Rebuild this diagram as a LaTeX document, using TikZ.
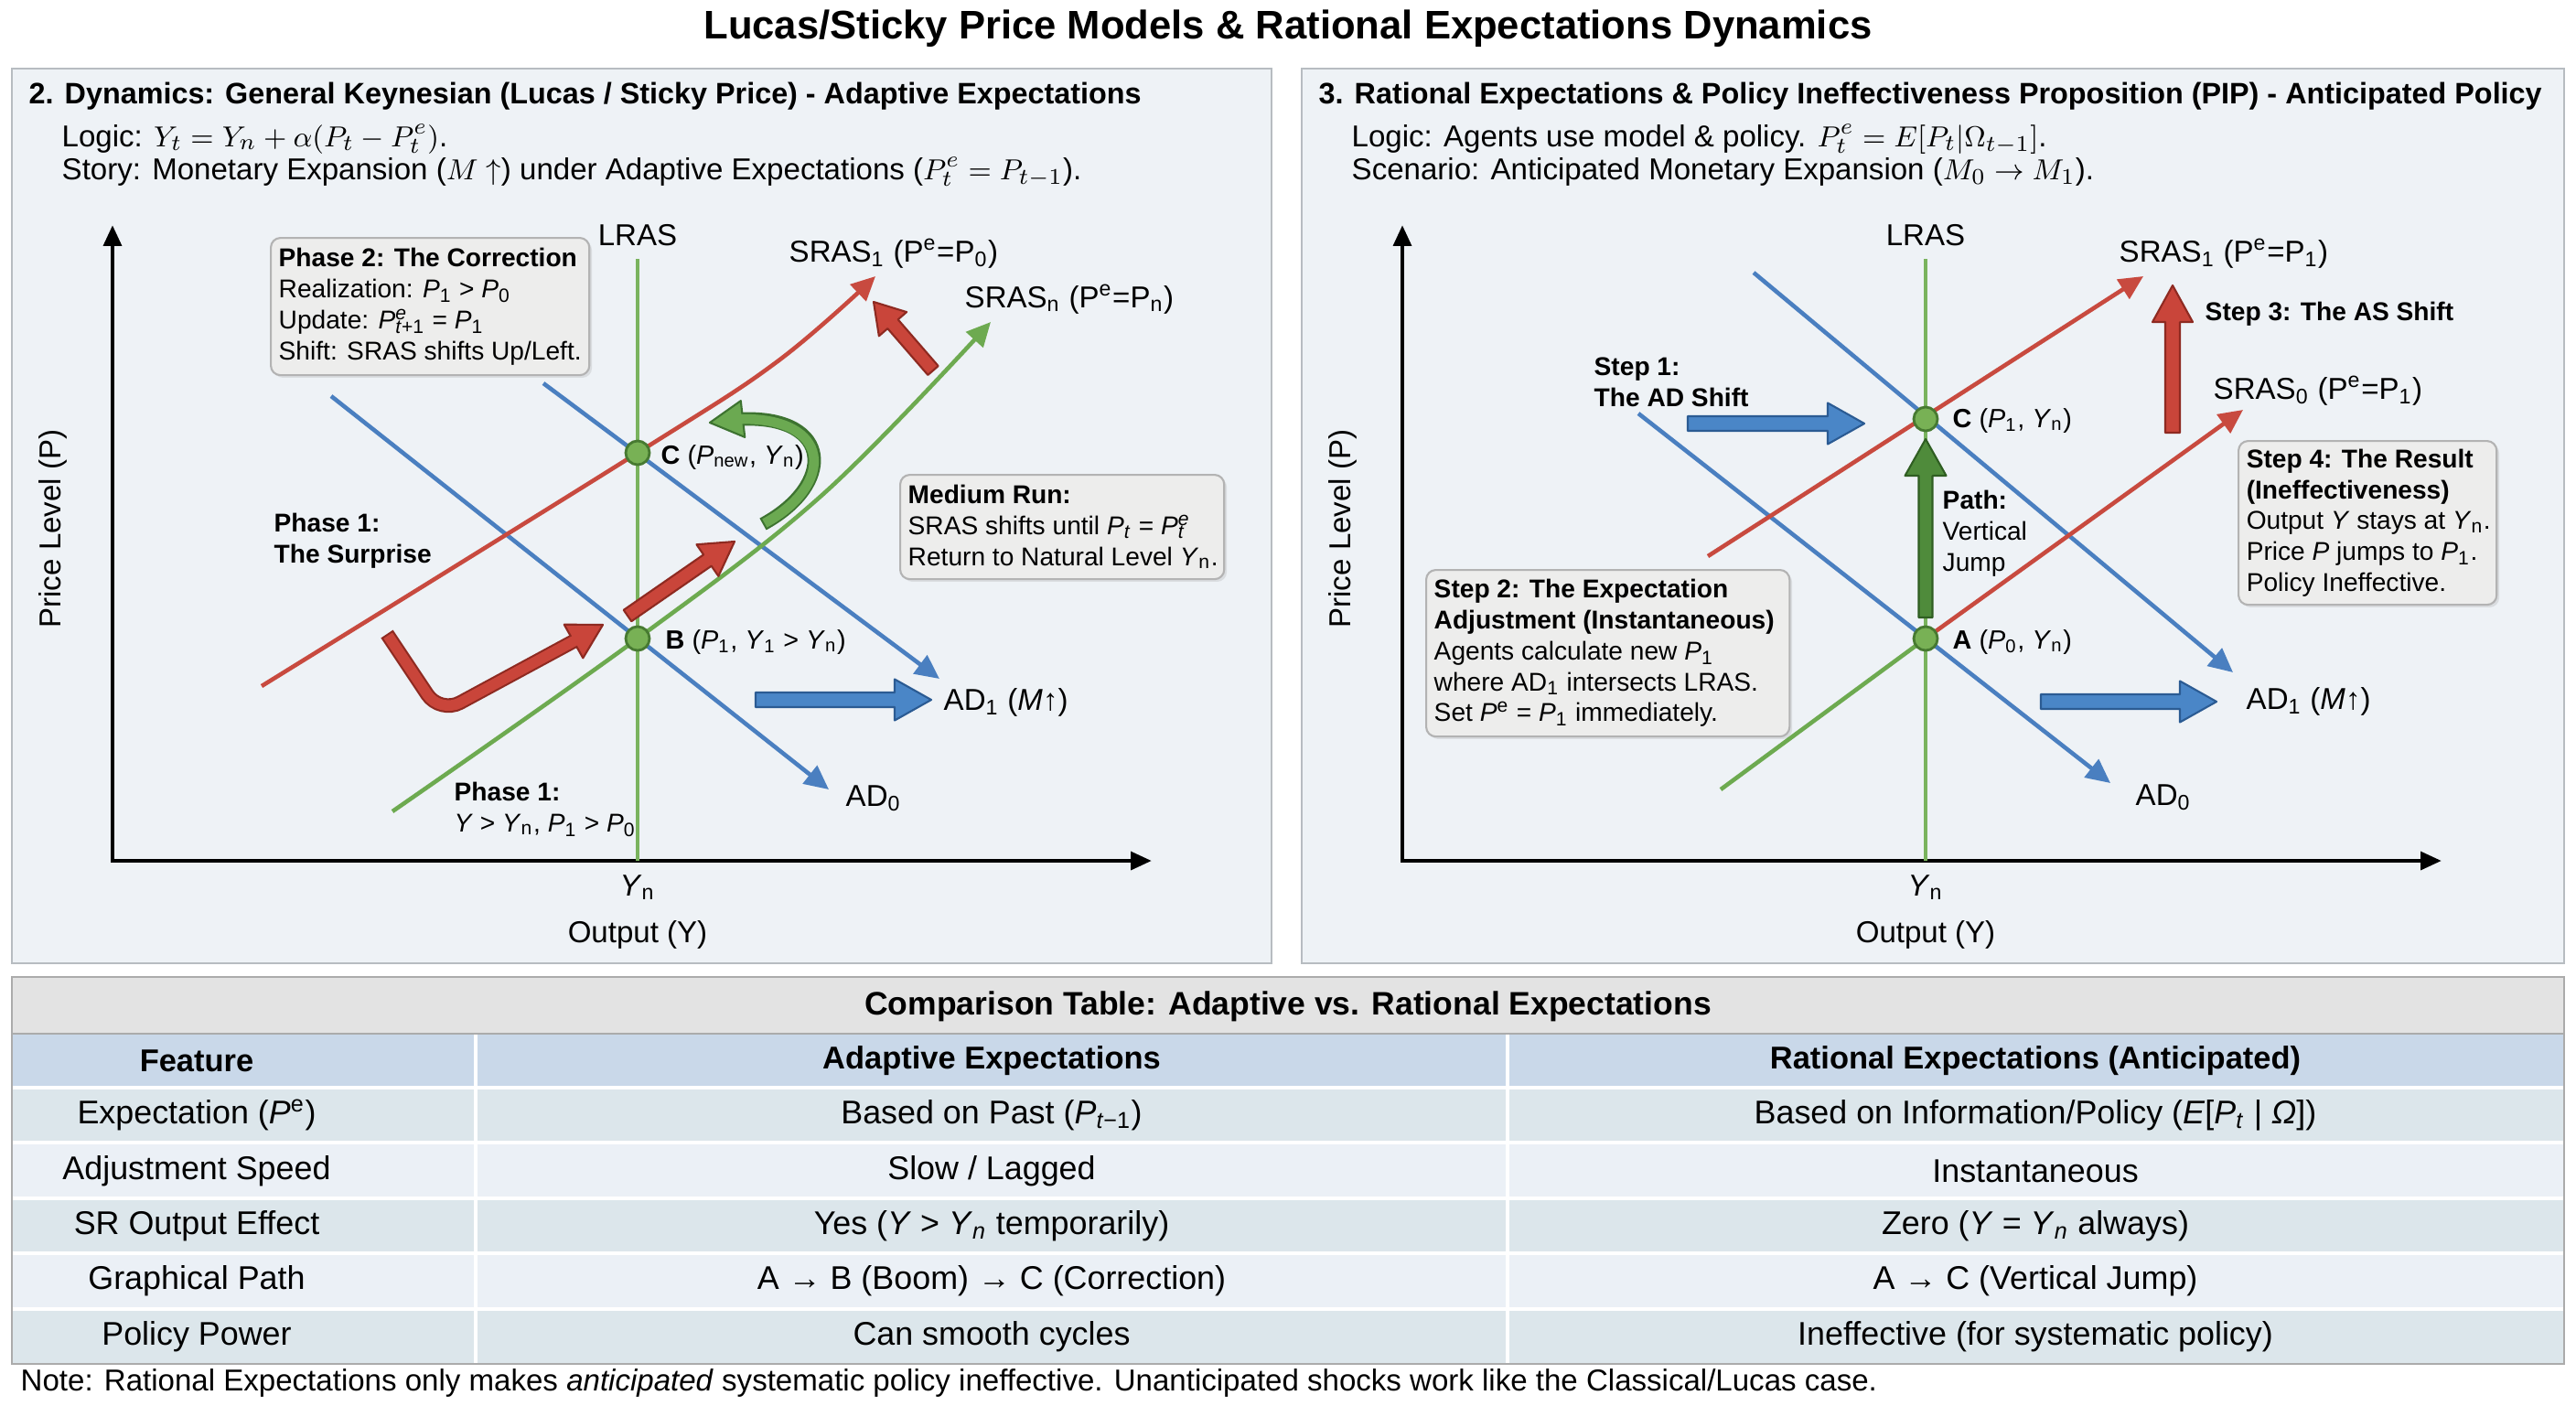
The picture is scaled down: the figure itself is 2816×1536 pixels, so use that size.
\documentclass[tikz,border=0pt]{standalone}
\usepackage{fontspec}
\setmainfont{Liberation Sans}
\usepackage{tikz}
\usetikzlibrary{arrows.meta,calc,shadows}
\pgfdeclarelayer{bglayer}
\pgfdeclarelayer{edgelayer}
\pgfdeclarelayer{nodelayer}
\pgfsetlayers{bglayer,edgelayer,nodelayer,main}
\definecolor{panelbg}{HTML}{EEF2F6}
\definecolor{panelline}{HTML}{B7BCC1}
\definecolor{curvered}{HTML}{C84A3F}
\definecolor{curveblue}{HTML}{4A7FC0}
\definecolor{curvegreen}{HTML}{6DAA50}
\definecolor{lrasgreen}{HTML}{7AB35E}
\definecolor{arrowred}{HTML}{C9453A}
\definecolor{arrowredline}{HTML}{8E2A21}
\definecolor{arrowblue}{HTML}{4A86C7}
\definecolor{arrowblueline}{HTML}{2B5B93}
\definecolor{pathgreen}{HTML}{4F8B3B}
\definecolor{pathgreenline}{HTML}{2F5E22}
\definecolor{turngreen}{HTML}{6BA951}
\definecolor{turngreenline}{HTML}{3D7330}
\definecolor{pointgreen}{HTML}{78B155}
\definecolor{pointline}{HTML}{477A31}
\definecolor{boxfill}{HTML}{EDEDEC}
\definecolor{boxline}{HTML}{B3B3B3}
\definecolor{tabletitle}{HTML}{E3E3E3}
\definecolor{tablehead}{HTML}{C9D8E9}
\definecolor{rowdark}{HTML}{DCE6EB}
\definecolor{rowlight}{HTML}{EBF0F6}
\definecolor{tableline}{HTML}{ABABAB}
\newcommand{\titlesize}{\fontsize{12.4}{15}\selectfont}
\newcommand{\headsize}{\fontsize{9.2}{11}\selectfont}
\newcommand{\bodysize}{\fontsize{9.4}{11}\selectfont}
\newcommand{\pointsize}{\fontsize{8.2}{10}\selectfont}
\newcommand{\boxsize}{\fontsize{8}{9.6}\selectfont}
\newcommand{\tablesize}{\fontsize{10.2}{12}\selectfont}
\newcommand{\isub}[2]{\textit{#1}\textsubscript{#2}}
\newcommand{\isubsup}[3]{\textit{#1}\rlap{\textsuperscript{#2}}\textsubscript{#3}}
\newcommand{\fatarrow}[6]{%
  \coordinate (fh) at ($(#3)!#6!(#2)$);
  \filldraw [style=#1] ($(#2)!#4!90:(#3)$) -- ($(fh)!#4!-90:(#2)$) -- ($(fh)!#5!-90:(#2)$) -- (#3)
    -- ($(fh)!#5!90:(#2)$) -- ($(fh)!#4!90:(#2)$) -- ($(#2)!#4!-90:(#3)$) -- cycle;
}
\newcommand{\fathead}[4]{%
  \filldraw [style=#1] ($(#2)!#4!90:(#3)$) -- (#3) -- ($(#2)!#4!-90:(#3)$) -- cycle;
}
\tikzstyle{panel}=[fill=panelbg, draw=panelline, line width=0.8pt]
\tikzstyle{axis}=[draw=black, line width=1.4pt, {Triangle[length=6.5pt,width=5.5pt]}-{Triangle[length=6.5pt,width=5.5pt]}]
\tikzstyle{lras}=[draw=lrasgreen, line width=1pt]
\tikzstyle{adline}=[draw=curveblue, line width=1.3pt, -{Triangle[length=7.5pt,width=7pt]}]
\tikzstyle{srasred}=[draw=curvered, line width=1.3pt, -{Triangle[length=7.5pt,width=7pt]}]
\tikzstyle{srasgreen}=[draw=curvegreen, line width=1.3pt, -{Triangle[length=7.5pt,width=7pt]}]
\tikzstyle{eqpoint}=[circle, fill=pointgreen, draw=pointline, line width=0.8pt, minimum size=0.26cm, inner sep=0pt]
\tikzstyle{lbl}=[font=\bodysize, inner sep=0pt]
\tikzstyle{ptlbl}=[font=\pointsize, inner sep=0pt, anchor=west]
\tikzstyle{note}=[font=\boxsize, align=left, inner sep=0pt]
\tikzstyle{notebox}=[rectangle, rounded corners=3pt, fill=boxfill, draw=boxline, line width=0.6pt, anchor=north west, drop shadow={opacity=0.18, shadow xshift=0.8pt, shadow yshift=-0.8pt}]
\tikzstyle{fatred}=[fill=arrowred, draw=arrowredline, line width=0.6pt, line join=round]
\tikzstyle{fatblue}=[fill=arrowblue, draw=arrowblueline, line width=0.6pt, line join=round]
\tikzstyle{fatgreen}=[fill=pathgreen, draw=pathgreenline, line width=0.6pt, line join=round]
\tikzstyle{turnhead}=[fill=turngreen, draw=turngreenline, line width=0.6pt, line join=round]
\tikzstyle{cell}=[font=\tablesize, inner sep=0pt]
\begin{document}
\begin{tikzpicture}[x=0.01cm, y=-0.01cm]
\useasboundingbox (0, 0) rectangle (2816, 1536);
\begin{pgfonlayer}{bglayer}
	\fill [white] (0, 0) rectangle (2816, 1536);
	\draw [style=panel] (13, 75) rectangle (1390, 1053);
	\draw [style=panel] (1423, 75) rectangle (2803, 1053);
	\fill [tabletitle] (13, 1068) rectangle (2803, 1130);
	\fill [tablehead] (13, 1130) rectangle (2803, 1189);
	\fill [rowdark] (13, 1189) rectangle (2803, 1249);
	\fill [rowlight] (13, 1249) rectangle (2803, 1310);
	\fill [rowdark] (13, 1310) rectangle (2803, 1370);
	\fill [rowlight] (13, 1370) rectangle (2803, 1431);
	\fill [rowdark] (13, 1431) rectangle (2803, 1491);
	\draw [white, line width=1.2pt] (520, 1130) -- (520, 1491) (1648, 1130) -- (1648, 1491);
	\draw [white, line width=1.2pt] (13, 1189) -- (2803, 1189) (13, 1249) -- (2803, 1249) (13, 1310) -- (2803, 1310) (13, 1370) -- (2803, 1370) (13, 1431) -- (2803, 1431);
	\draw [tableline, line width=0.8pt] (13, 1130) -- (2803, 1130);
	\draw [tableline, line width=0.8pt] (13, 1068) rectangle (2803, 1491);
\end{pgfonlayer}
\node [font=\titlesize\bfseries] (title) at (1408, 31) {Lucas/Sticky Price Models \& Rational Expectations Dynamics};
\node [style=lbl, font=\headsize\bfseries, anchor=west] (lHead) at (31, 105) {2. Dynamics: General Keynesian (Lucas / Sticky Price) - Adaptive Expectations};
\node [style=lbl, anchor=west] (lLogic) at (67, 152) {Logic: $Y_t = Y_n + \alpha(P_t - P_t^e)$.};
\node [style=lbl, anchor=west] (lStory) at (67, 188) {Story: Monetary Expansion ($M\uparrow$) under Adaptive Expectations ($P_t^e = P_{t-1}$).};
\node [style=lbl, font=\headsize\bfseries, anchor=west] (rHead) at (1441, 105) {3. Rational Expectations \& Policy Ineffectiveness Proposition (PIP) - Anticipated Policy};
\node [style=lbl, anchor=west] (rLogic) at (1477, 152) {Logic: Agents use model \& policy. $P_t^e = E[P_t|\Omega_{t-1}]$.};
\node [style=lbl, anchor=west] (rScenario) at (1477, 188) {Scenario: Anticipated Monetary Expansion ($M_0 \to M_1$).};
\begin{pgfonlayer}{nodelayer}
	\node [style=eqpoint] (lC) at (697, 495) {};
	\node [style=eqpoint] (lB) at (697, 698) {};
	\node [style=eqpoint] (rC) at (2105, 458) {};
	\node [style=eqpoint] (rA) at (2105, 698) {};
\end{pgfonlayer}
\begin{pgfonlayer}{edgelayer}
	\coordinate (lO) at (123, 941);
	\coordinate (lYtop) at (123, 246);
	\coordinate (lXend) at (1259, 941);
	\coordinate (lLRtop) at (697, 283);
	\coordinate (lLRbot) at (697, 941);
	\coordinate (lAD0s) at (362, 433);
	\coordinate (lAD0e) at (906, 863);
	\coordinate (lAD1s) at (594, 419);
	\coordinate (lAD1e) at (1027, 742);
	\coordinate (lS1a) at (286, 750);
	\coordinate (lS1b) at (850, 395);
	\coordinate (lS1c) at (957, 302);
	\coordinate (lSNa) at (429, 887);
	\coordinate (lSNb) at (900, 540);
	\coordinate (lSNc) at (1083, 352);
	\draw [style=axis] (lYtop) -- (lO) -- (lXend);
	\draw [style=lras] (lLRtop) -- (lLRbot);
	\draw [style=adline] (lAD0s) -- (lAD0e);
	\draw [style=adline] (lAD1s) -- (lAD1e);
	\draw [style=srasred] plot [smooth, tension=0.6] coordinates {(lS1a) (lC.center) (lS1b) (lS1c)};
	\draw [style=srasgreen] plot [smooth, tension=0.6] coordinates {(lSNa) (lB.center) (lSNb) (lSNc)};
	\coordinate (rO) at (1533, 941);
	\coordinate (rYtop) at (1533, 246);
	\coordinate (rXend) at (2669, 941);
	\coordinate (rLRtop) at (2105, 283);
	\coordinate (rLRbot) at (2105, 941);
	\coordinate (rAD0s) at (1791, 452);
	\coordinate (rAD0e) at (2307, 856);
	\coordinate (rAD1s) at (1917, 298);
	\coordinate (rAD1e) at (2441, 735);
	\coordinate (rS1s) at (1867, 608);
	\coordinate (rS1e) at (2343, 302);
	\coordinate (rS0s) at (1881, 863);
	\coordinate (rS0e) at (2452, 448);
	\draw [style=axis] (rYtop) -- (rO) -- (rXend);
	\draw [style=lras] (rLRtop) -- (rLRbot);
	\draw [style=adline] (rAD0s) -- (rAD0e);
	\draw [style=adline] (rAD1s) -- (rAD1e);
	\draw [style=srasred] (rS1s) -- (rS1e);
	\draw [draw=curvegreen, line width=1.3pt] (rS0s) -- (rA.center);
	\draw [style=srasred] (rA.center) -- (rS0e);
\end{pgfonlayer}
\coordinate (lShiftS) at (1020, 405);
\coordinate (lShiftE) at (955, 330);
\fatarrow{fatred}{lShiftS}{lShiftE}{0.075cm}{0.2cm}{0.32cm}
\coordinate (lRiseS) at (686, 673);
\coordinate (lRiseE) at (803, 592);
\fatarrow{fatred}{lRiseS}{lRiseE}{0.075cm}{0.21cm}{0.36cm}
\coordinate (lPushS) at (826, 765);
\coordinate (lPushE) at (1018, 765);
\fatarrow{fatblue}{lPushS}{lPushE}{0.08cm}{0.225cm}{0.4cm}
\coordinate (hkTail) at (423, 693);
\coordinate (hkBend) at (481, 780);
\coordinate (hkBase) at (627, 701);
\coordinate (hkTip) at (659, 683);
\fathead{fatred}{hkBase}{hkTip}{0.21cm}
\draw [draw=arrowredline, line width=4.5pt, rounded corners=0.25cm] (hkTail) -- (hkBend) -- (hkBase);
\draw [draw=arrowred, line width=3.3pt, rounded corners=0.25cm, shorten <=0.6pt, shorten >=-1.5pt] (hkTail) -- (hkBend) -- (hkBase);
\coordinate (cvS) at (834, 573);
\coordinate (cvB) at (812, 458);
\coordinate (cvT) at (776, 462);
\fathead{turnhead}{cvB}{cvT}{0.2cm}
\draw [draw=turngreenline, line width=4.2pt] (cvS) .. controls (913, 530) and (911, 455) .. (cvB);
\draw [draw=turngreen, line width=3pt, shorten <=0.6pt, shorten >=-1.5pt] (cvS) .. controls (913, 530) and (911, 455) .. (cvB);
\coordinate (rPushS) at (1845, 463);
\coordinate (rPushE) at (2038, 463);
\fatarrow{fatblue}{rPushS}{rPushE}{0.08cm}{0.225cm}{0.4cm}
\coordinate (rPush2S) at (2231, 767);
\coordinate (rPush2E) at (2423, 767);
\fatarrow{fatblue}{rPush2S}{rPush2E}{0.08cm}{0.225cm}{0.4cm}
\coordinate (rLiftS) at (2375, 473);
\coordinate (rLiftE) at (2375, 312);
\fatarrow{fatred}{rLiftS}{rLiftE}{0.08cm}{0.22cm}{0.4cm}
\coordinate (rJumpS) at (2105, 675);
\coordinate (rJumpE) at (2105, 480);
\fatarrow{fatgreen}{rJumpS}{rJumpE}{0.075cm}{0.225cm}{0.4cm}
\node [style=lbl] (lLRAS) at (697, 257) {LRAS};
\node [style=lbl, anchor=west] (lSRAS1) at (862, 277) {SRAS\textsubscript{1} (P\textsuperscript{e}=P\textsubscript{0})};
\node [style=lbl, anchor=west] (lSRASn) at (1054, 327) {SRAS\textsubscript{n} (P\textsuperscript{e}=P\textsubscript{n})};
\node [style=ptlbl] (lClbl) at (722, 500) {\textbf{C} (\isub{P}{new}, \isub{Y}{n})};
\node [style=ptlbl] (lBlbl) at (727, 702) {\textbf{B} (\isub{P}{1}, \isub{Y}{1} > \isub{Y}{n})};
\node [style=lbl, anchor=west] (lAD1) at (1031, 768) {AD\textsubscript{1} (\textit{M}↑)};
\node [style=lbl, anchor=west] (lAD0) at (924, 873) {AD\textsubscript{0}};
\node [style=note, font=\boxsize\bfseries, anchor=west] (lSurprise) at (299, 591) {Phase 1:\\The Surprise};
\node [style=note, anchor=west] (lPhaseOne) at (496, 885) {\textbf{Phase 1:}\\\textit{Y} > \isub{Y}{n}, \isub{P}{1} > \isub{P}{0}};
\node [style=lbl, rotate=90] (lPrice) at (58, 578) {Price Level (P)};
\node [style=lbl] (lYn) at (697, 970) {\isub{Y}{n}};
\node [style=lbl] (lOutput) at (697, 1022) {Output (Y)};
\node [style=notebox, minimum width=3.48cm, minimum height=1.50cm] (lPhaseTwoBox) at (295, 259) {};
\node [style=note, anchor=west] (lPhaseTwo) at ([xshift=0.09cm]lPhaseTwoBox.west) {\textbf{Phase 2: The Correction}\\Realization: \isub{P}{1} > \isub{P}{0}\\Update: \isubsup{P}{\textit{e}}{\textit{t}+1} = \isub{P}{1}\\Shift: SRAS shifts Up/Left.};
\node [style=notebox, minimum width=3.54cm, minimum height=1.14cm] (lMediumBox) at (983, 518) {};
\node [style=note, anchor=west] (lMedium) at ([xshift=0.09cm]lMediumBox.west) {\textbf{Medium Run:}\\SRAS shifts until \isub{P}{\textit{t}} = \isubsup{P}{\textit{e}}{\textit{t}}\\Return to Natural Level \isub{Y}{n}.};
\node [style=lbl] (rLRAS) at (2105, 257) {LRAS};
\node [style=lbl, anchor=west] (rSRAS1) at (2316, 277) {SRAS\textsubscript{1} (P\textsuperscript{e}=P\textsubscript{1})};
\node [style=lbl, anchor=west] (rSRAS0) at (2419, 427) {SRAS\textsubscript{0} (P\textsuperscript{e}=P\textsubscript{1})};
\node [style=note, font=\boxsize\bfseries, anchor=west] (rStepThree) at (2410, 343) {Step 3: The AS Shift};
\node [style=note, font=\boxsize\bfseries, anchor=west] (rStepOne) at (1742, 418) {Step 1:\\The AD Shift};
\node [style=ptlbl] (rClbl) at (2134, 460) {\textbf{C} (\isub{P}{1}, \isub{Y}{n})};
\node [style=ptlbl] (rAlbl) at (2134, 702) {\textbf{A} (\isub{P}{0}, \isub{Y}{n})};
\node [style=note, anchor=west] (rPath) at (2123, 583) {\textbf{Path:}\\Vertical\\Jump};
\node [style=lbl, anchor=west] (rAD1) at (2455, 767) {AD\textsubscript{1} (\textit{M}↑)};
\node [style=lbl, anchor=west] (rAD0) at (2334, 872) {AD\textsubscript{0}};
\node [style=lbl, rotate=90] (rPrice) at (1468, 578) {Price Level (P)};
\node [style=lbl] (rYn) at (2105, 970) {\isub{Y}{n}};
\node [style=lbl] (rOutput) at (2105, 1022) {Output (Y)};
\node [style=notebox, minimum width=3.97cm, minimum height=1.82cm] (rStepTwoBox) at (1558, 622) {};
\node [style=note, anchor=west] (rStepTwo) at ([xshift=0.09cm]rStepTwoBox.west) {\textbf{Step 2: The Expectation}\\\textbf{Adjustment (Instantaneous)}\\Agents calculate new \isub{P}{1}\\where AD\textsubscript{1} intersects LRAS.\\Set \textit{P}\textsuperscript{e} = \isub{P}{1} immediately.};
\node [style=notebox, minimum width=2.82cm, minimum height=1.79cm] (rStepFourBox) at (2446, 481) {};
\node [style=note, anchor=west] (rStepFour) at ([xshift=0.09cm]rStepFourBox.west) {\textbf{Step 4: The Result}\\\textbf{(Ineffectiveness)}\\Output \textit{Y} stays at \isub{Y}{n}.\\Price \textit{P} jumps to \isub{P}{1}.\\Policy Ineffective.};
\node [style=cell, font=\fontsize{10.1}{12}\selectfont\bfseries] (tTitle) at (1408, 1100) {Comparison Table: Adaptive vs. Rational Expectations};
\node [style=cell, font=\fontsize{9.8}{12}\selectfont\bfseries] (tHeadA) at (215, 1160) {Feature};
\node [style=cell, font=\fontsize{9.8}{12}\selectfont\bfseries] (tHeadB) at (1084, 1160) {Adaptive Expectations};
\node [style=cell, font=\fontsize{9.8}{12}\selectfont\bfseries] (tHeadC) at (2225, 1160) {Rational Expectations (Anticipated)};
\node [style=cell] (tExpA) at (215, 1219) {Expectation (\textit{P}\textsuperscript{e})};
\node [style=cell] (tExpB) at (1084, 1219) {Based on Past (\isub{P}{\textit{t}−1})};
\node [style=cell] (tExpC) at (2225, 1219) {Based on Information/Policy (\textit{E}[\isub{P}{\textit{t}} | \textit{Ω}])};
\node [style=cell] (tSpdA) at (215, 1280) {Adjustment Speed};
\node [style=cell] (tSpdB) at (1084, 1280) {Slow / Lagged};
\node [style=cell] (tSpdC) at (2225, 1280) {Instantaneous};
\node [style=cell] (tOutA) at (215, 1340) {SR Output Effect};
\node [style=cell] (tOutB) at (1084, 1340) {Yes (\textit{Y} > \isub{Y}{\textit{n}} temporarily)};
\node [style=cell] (tOutC) at (2225, 1340) {Zero (\textit{Y} = \isub{Y}{\textit{n}} always)};
\node [style=cell] (tPathA) at (215, 1400) {Graphical Path};
\node [style=cell] (tPathB) at (1084, 1400) {A → B (Boom) → C (Correction)};
\node [style=cell] (tPathC) at (2225, 1400) {A → C (Vertical Jump)};
\node [style=cell] (tPowA) at (215, 1461) {Policy Power};
\node [style=cell] (tPowB) at (1084, 1461) {Can smooth cycles};
\node [style=cell] (tPowC) at (2225, 1461) {Ineffective (for systematic policy)};
\node [style=lbl, anchor=west] (note) at (22, 1512) {Note: Rational Expectations only makes \textit{anticipated} systematic policy ineffective. Unanticipated shocks work like the Classical/Lucas case.};
\end{tikzpicture}
\end{document}
